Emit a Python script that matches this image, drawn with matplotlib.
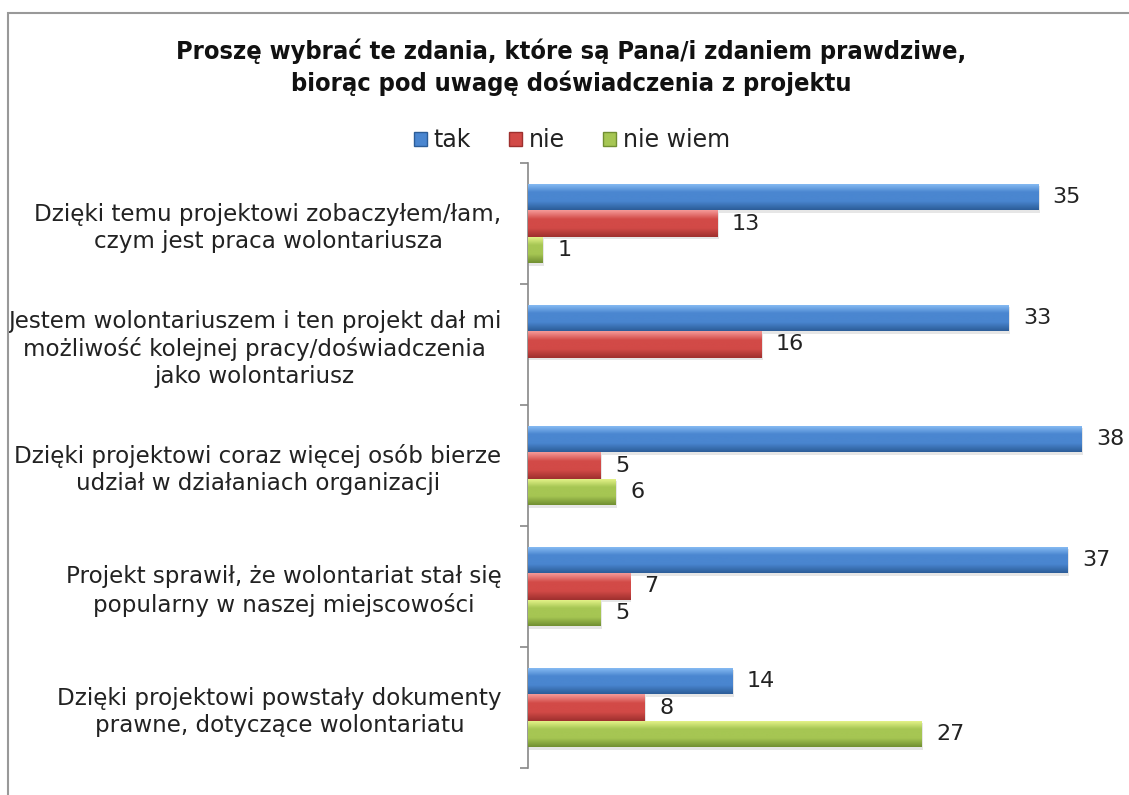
import numpy as np
import matplotlib.pyplot as plt
from matplotlib.colors import LinearSegmentedColormap
from matplotlib.patches import Rectangle

kategorie = [
    "Dzięki temu projektowi zobaczyłem/łam,\nczym jest praca wolontariusza",
    "Jestem wolontariuszem i ten projekt dał mi\nmożliwość kolejnej pracy/doświadczenia\njako wolontariusz",
    "Dzięki projektowi coraz więcej osób bierze\nudział w działaniach organizacji",
    "Projekt sprawił, że wolontariat stał się\npopularny w naszej miejscowości",
    "Dzięki projektowi powstały dokumenty\nprawne, dotyczące wolontariatu",
]
tak = [35, 33, 38, 37, 14]
nie = [13, 16, 5, 7, 8]
nie_wiem = [1, None, 6, 5, 27]

serie = ["tak", "nie", "nie wiem"]
# kolory: jasny / srodek / ciemny (efekt gradientu jak w Excelu)
kolory = [
    ["#8cc0f6", "#4a86d0", "#2c5d98"],
    ["#f59a98", "#d24a47", "#9e302e"],
    ["#eaf78e", "#a6c653", "#718f32"],
]

plt.rcParams['font.family'] = ['DejaVu Sans']
fig = plt.figure(figsize=(11.29, 7.95), dpi=100)
ax = fig.add_axes([528 / 1129, 1 - 768 / 795, (1111 - 528) / 1129, (768 - 163) / 795])

y = np.arange(len(kategorie))
h = 0.22
dane = [tak, nie, nie_wiem]
for i, wart in enumerate(dane):
    v = np.array([np.nan if w is None else w for w in wart], dtype=float)
    pos = y + (i - 1) * h
    bars = ax.barh(pos, np.nan_to_num(v), height=h, color=kolory[i][1],
                   edgecolor='none', zorder=2)
    cmap = LinearSegmentedColormap.from_list("g%d" % i,
                                             [kolory[i][0], kolory[i][1], kolory[i][1], kolory[i][2]])
    grad = np.linspace(0, 1, 64).reshape(-1, 1)
    for b, val in zip(bars, v):
        if np.isnan(val) or val == 0:
            continue
        x0, y0 = b.get_x(), b.get_y()
        w, hh = b.get_width(), b.get_height()
        # cien
        ax.add_patch(Rectangle((x0 + 0.1, y0 + 0.02), w, hh, color='#e6e6e6',
                               zorder=1, lw=0))
        im = ax.imshow(grad, extent=(x0, x0 + w, y0 + hh, y0), aspect='auto',
                       cmap=cmap, zorder=3, interpolation='bicubic')
        im.set_clip_path(b)
        ax.text(x0 + w + 1.0, y0 + hh / 2, "%d" % val, va='center', ha='left',
                fontsize=16, color='#222222')

ax.set_xlim(0, 40)
ax.set_ylim(len(kategorie) - 0.5, -0.5)
ax.set_yticks(y)
ax.set_yticklabels(kategorie, fontsize=16.6, color='#222222',
                   multialignment='center', linespacing=1.22)
ax.tick_params(axis='y', which='major', length=0, pad=19)
ax.set_yticks(np.arange(-0.5, len(kategorie)), minor=True)
ax.tick_params(axis='y', which='minor', length=6, color='#888888', width=1.2)
ax.set_xticks([])
for s in ['top', 'right', 'bottom']:
    ax.spines[s].set_visible(False)
ax.spines['left'].set_color('#888888')
ax.spines['left'].set_linewidth(1.2)
ax.patch.set_alpha(0)

# legenda
uchwyty = [Rectangle((0, 0), 1, 1, facecolor=k[1], edgecolor=k[2]) for k in kolory]
fig.legend(uchwyty, serie, loc='center', bbox_to_anchor=(572 / 1129, 1 - 140 / 795),
           ncol=3, frameon=False, fontsize=17, handlelength=0.55, handleheight=0.55,
           handletextpad=0.3, columnspacing=1.6, labelcolor='#222222')

fig.text(571 / 1129, 1 - 67 / 795,
         "Proszę wybrać te zdania, które są Pana/i zdaniem prawdziwe,\nbiorąc pod uwagę doświadczenia z projektu",
         ha='center', va='center', fontsize=18.2, fontweight='bold',
         fontstretch='condensed', linespacing=1.3, color='#111111')

# ramka wykresu
fig.patches.append(Rectangle((8 / 1129, -0.1), 1.2, 1 - 13 / 795 + 0.1,
                             transform=fig.transFigure, fill=False,
                             edgecolor='#999999', lw=1.5))

fig.savefig('out.png', dpi=100)
